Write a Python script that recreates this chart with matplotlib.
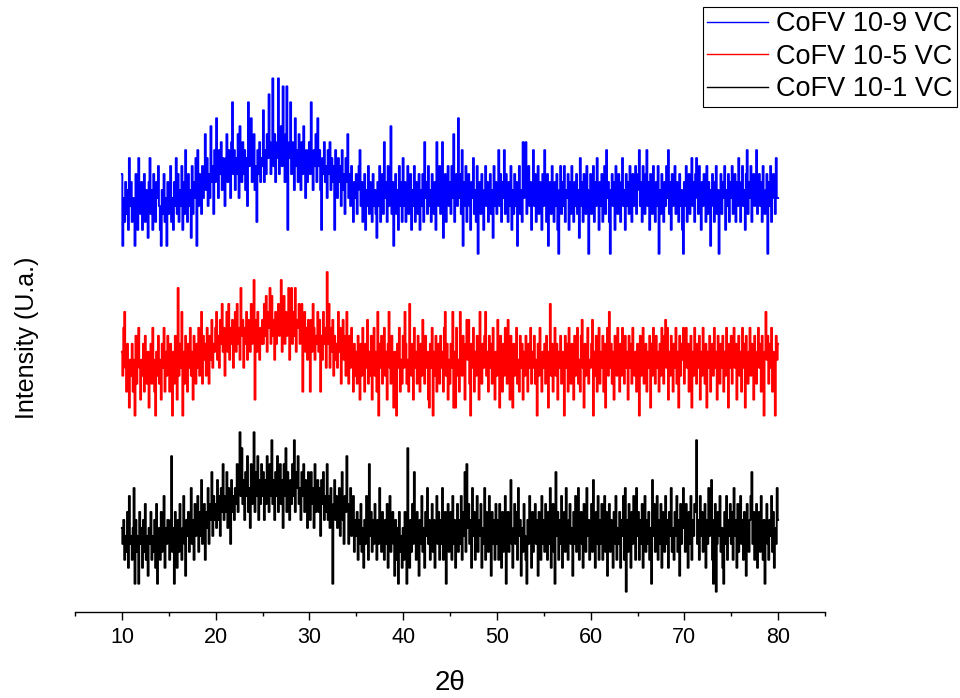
import matplotlib
matplotlib.use("Agg")
import matplotlib.pyplot as plt
import numpy as np
from matplotlib.ticker import MultipleLocator

plt.rcParams['font.family'] = ['Liberation Sans', 'DejaVu Sans']

# 2theta grid: 10.0 -> 80.0 deg, step 0.1
theta_start = 10.0
theta_step = 0.1

# intensity counts (detector levels above each trace's floor)
cofv_10_9 = [
    10, 1, 7, 4, 9, 5, 8, 3, 12, 6, 9, 4, 7, 5, 1, 10, 6, 3, 12, 8, 5, 9, 3, 7, 10, 4, 8, 6, 2, 9, 12, 5, 8, 3, 10, 6, 4, 9, 7, 11, 6, 3, 1, 8, 5, 10, 4, 7, 1, 9,
    5, 8, 11, 4, 7, 3, 9, 6, 12, 5, 10, 4, 8, 6, 11, 3, 9, 5, 13, 7, 4, 10, 6, 8, 2, 11, 5, 9, 7, 12, 1, 13, 6, 10, 8, 5, 11, 7, 9, 15, 8, 12, 6, 10, 7, 16, 9, 11, 5, 13,
    9, 17, 11, 7, 13, 10, 14, 8, 12, 10, 6, 12, 15, 9, 13, 11, 7, 14, 19, 10, 13, 8, 12, 10, 15, 7, 16, 11, 9, 14, 10, 13, 8, 12, 6, 19, 11, 14, 17, 9, 12, 15, 8, 11, 4, 13, 10, 14, 9, 12,
    11, 18, 9, 13, 10, 15, 12, 20, 14, 10, 13, 22, 11, 15, 9, 12, 14, 22, 10, 13, 16, 11, 21, 13, 9, 15, 21, 3, 12, 14, 19, 10, 14, 12, 8, 17, 11, 13, 9, 15, 12, 8, 14, 10, 16, 11, 7, 13, 9, 12,
    14, 10, 19, 12, 8, 13, 11, 15, 9, 17, 11, 13, 8, 3, 12, 10, 14, 9, 11, 7, 13, 10, 14, 8, 12, 9, 11, 3, 13, 10, 7, 12, 9, 11, 6, 13, 8, 10, 5, 12, 9, 15, 7, 10, 6, 11, 8, 4, 9, 7,
    10, 5, 8, 11, 13, 6, 9, 4, 7, 10, 3, 8, 6, 11, 5, 9, 7, 4, 10, 6, 8, 5, 2, 9, 6, 11, 4, 7, 10, 5, 14, 7, 9, 4, 11, 6, 8, 16, 5, 9, 1, 7, 10, 5, 8, 3, 11, 6, 9, 4,
    12, 6, 9, 4, 8, 11, 5, 7, 10, 3, 8, 6, 11, 4, 9, 7, 5, 10, 3, 8, 6, 10, 4, 14, 7, 9, 5, 11, 6, 8, 4, 10, 7, 5, 9, 3, 14, 8, 6, 11, 5, 9, 14, 2, 7, 10, 4, 8, 11, 6,
    9, 5, 11, 7, 15, 4, 8, 10, 6, 17, 7, 10, 5, 13, 1, 9, 6, 11, 4, 8, 10, 6, 3, 9, 7, 12, 5, 8, 4, 11, 0, 7, 9, 5, 10, 6, 3, 8, 11, 6, 9, 4, 7, 10, 5, 8, 2, 11, 6, 9,
    5, 8, 13, 6, 10, 4, 9, 7, 13, 5, 10, 7, 4, 9, 6, 11, 3, 8, 5, 10, 6, 9, 1, 7, 11, 5, 8, 4, 14, 7, 10, 14, 5, 8, 11, 6, 9, 3, 7, 13, 6, 10, 4, 8, 11, 5, 9, 7, 3, 10,
    6, 13, 8, 4, 10, 1, 7, 9, 5, 11, 7, 4, 9, 6, 10, 3, 0, 8, 11, 5, 9, 6, 11, 4, 8, 7, 10, 3, 9, 5, 11, 7, 4, 9, 6, 10, 5, 8, 2, 12, 6, 9, 4, 10, 7, 5, 11, 8, 0, 6,
    10, 5, 8, 11, 4, 9, 6, 12, 7, 3, 9, 6, 10, 4, 8, 11, 5, 13, 7, 9, 4, 0, 8, 10, 6, 9, 3, 11, 7, 5, 10, 7, 4, 9, 12, 6, 8, 3, 10, 6, 9, 5, 11, 7, 4, 10, 6, 8, 11, 5,
    8, 10, 13, 6, 9, 4, 11, 7, 5, 10, 13, 6, 9, 3, 10, 7, 5, 11, 8, 4, 9, 6, 11, 0, 8, 5, 10, 7, 4, 9, 6, 11, 7, 13, 5, 9, 3, 10, 6, 8, 11, 5, 9, 7, 4, 10, 6, 8, 3, 0,
    9, 6, 11, 4, 8, 10, 5, 7, 12, 6, 9, 4, 10, 12, 7, 5, 11, 8, 3, 9, 6, 10, 7, 4, 11, 5, 9, 8, 1, 6, 10, 7, 4, 9, 11, 5, 8, 0, 6, 10, 5, 9, 7, 11, 3, 8, 6, 10, 4, 9,
    7, 11, 5, 8, 10, 4, 9, 6, 12, 7, 4, 9, 11, 6, 8, 3, 10, 13, 5, 9, 7, 11, 4, 8, 10, 6, 9, 13, 5, 8, 10, 6, 9, 4, 11, 7, 5, 8, 10, 0, 9, 6, 11, 4, 8, 10, 7, 5, 12, 7,
    7,
]

cofv_10_5 = [
    8, 5, 11, 13, 6, 3, 9, 4, 1, 7, 5, 9, 3, 7, 0, 10, 4, 8, 11, 6, 2, 7, 5, 9, 3, 10, 6, 4, 8, 1, 6, 9, 4, 11, 7, 3, 0, 8, 5, 10, 4, 7, 2, 9, 6, 11, 3, 8, 5, 10,
    6, 3, 9, 5, 0, 8, 4, 10, 7, 2, 16, 5, 9, 6, 13, 0, 8, 4, 10, 7, 3, 9, 6, 11, 5, 8, 2, 10, 7, 4, 9, 6, 11, 5, 8, 13, 4, 10, 7, 9, 5, 11, 8, 4, 10, 7, 12, 6, 9, 8,
    11, 13, 7, 10, 6, 12, 9, 14, 8, 11, 5, 10, 13, 8, 14, 7, 11, 9, 12, 6, 10, 13, 8, 14, 9, 11, 7, 16, 10, 12, 6, 11, 9, 13, 7, 12, 10, 8, 14, 9, 11, 17, 2, 12, 8, 13, 10, 7, 11, 9,
    12, 9, 14, 10, 15, 8, 13, 11, 16, 9, 15, 10, 12, 7, 13, 9, 11, 14, 10, 12, 17, 8, 11, 15, 9, 13, 10, 12, 16, 7, 11, 16, 9, 13, 10, 16, 8, 12, 11, 14, 9, 12, 14, 3, 10, 13, 8, 11, 7, 12,
    10, 3, 12, 8, 14, 11, 7, 10, 9, 13, 8, 12, 3, 10, 7, 13, 9, 11, 6, 18, 9, 14, 6, 11, 8, 12, 5, 10, 7, 9, 6, 13, 8, 11, 4, 9, 12, 7, 10, 5, 13, 8, 4, 10, 6, 11, 7, 3, 9, 5,
    8, 4, 10, 6, 2, 9, 5, 11, 7, 3, 9, 6, 12, 4, 8, 5, 10, 2, 7, 11, 5, 8, 3, 13, 0, 9, 6, 10, 4, 7, 11, 5, 8, 2, 9, 13, 6, 4, 10, 7, 1, 8, 5, 0, 9, 6, 11, 3, 7, 4,
    10, 6, 13, 9, 4, 7, 3, 14, 8, 5, 9, 2, 11, 6, 8, 4, 10, 7, 3, 9, 5, 12, 7, 4, 10, 6, 8, 2, 1, 9, 6, 11, 0, 8, 5, 10, 3, 7, 9, 4, 10, 6, 8, 3, 11, 13, 5, 9, 2, 7,
    4, 9, 6, 13, 1, 8, 1, 11, 5, 7, 3, 13, 8, 5, 10, 6, 2, 9, 12, 7, 12, 4, 0, 9, 6, 11, 3, 8, 5, 10, 6, 2, 13, 7, 4, 9, 6, 10, 13, 5, 8, 3, 10, 6, 9, 4, 11, 7, 2, 8,
    5, 12, 7, 1, 10, 6, 3, 9, 5, 11, 7, 4, 12, 8, 2, 10, 6, 1, 9, 5, 8, 11, 4, 7, 3, 10, 6, 9, 2, 8, 5, 10, 7, 3, 9, 6, 11, 4, 8, 6, 10, 4, 7, 0, 9, 5, 11, 6, 3, 8,
    6, 9, 4, 10, 7, 1, 8, 14, 5, 9, 3, 7, 11, 5, 9, 2, 8, 6, 10, 4, 8, 5, 0, 10, 6, 9, 3, 11, 7, 4, 9, 6, 2, 10, 5, 8, 11, 4, 7, 3, 10, 12, 6, 1, 9, 5, 8, 11, 4, 7,
    6, 9, 12, 0, 8, 5, 10, 3, 7, 11, 4, 8, 6, 10, 3, 9, 1, 7, 11, 5, 13, 6, 9, 4, 8, 2, 10, 7, 5, 11, 6, 3, 9, 5, 11, 7, 4, 10, 6, 8, 2, 10, 6, 9, 4, 11, 7, 5, 8, 3,
    9, 6, 0, 10, 5, 8, 11, 4, 7, 9, 3, 8, 6, 10, 1, 9, 5, 11, 7, 4, 10, 6, 8, 3, 9, 5, 11, 7, 4, 10, 12, 6, 11, 2, 8, 5, 10, 7, 3, 9, 6, 11, 4, 8, 1, 10, 5, 9, 7, 11,
    4, 8, 11, 6, 9, 3, 7, 10, 1, 8, 5, 11, 7, 4, 9, 6, 10, 2, 8, 5, 11, 7, 4, 9, 1, 8, 6, 10, 3, 7, 9, 5, 11, 6, 8, 2, 10, 7, 4, 9, 6, 10, 3, 8, 5, 11, 7, 1, 9, 6,
    10, 4, 8, 11, 6, 9, 2, 7, 10, 5, 8, 3, 11, 6, 9, 1, 10, 7, 4, 8, 11, 5, 9, 6, 2, 10, 7, 4, 8, 11, 6, 9, 3, 10, 5, 0, 8, 13, 7, 10, 4, 9, 6, 11, 3, 8, 5, 0, 10, 7,
    9,
]

cofv_10_1 = [
    8, 6, 9, 4, 7, 5, 10, 3, 12, 6, 7, 4, 8, 13, 1, 9, 5, 7, 1, 10, 6, 8, 3, 9, 5, 11, 4, 7, 2, 8, 6, 10, 4, 7, 5, 9, 3, 11, 1, 6, 8, 4, 10, 5, 7, 12, 3, 8, 6, 9,
    7, 4, 9, 17, 5, 8, 1, 10, 6, 3, 9, 5, 11, 7, 4, 8, 12, 6, 2, 9, 7, 10, 5, 8, 13, 6, 9, 4, 11, 7, 8, 12, 5, 10, 7, 14, 6, 9, 11, 4, 10, 8, 13, 6, 11, 9, 15, 7, 12, 9,
    11, 8, 14, 9, 12, 7, 13, 10, 16, 9, 12, 10, 15, 8, 13, 11, 6, 14, 10, 12, 9, 13, 11, 16, 10, 14, 20, 12, 18, 11, 14, 9, 15, 12, 17, 10, 13, 8, 16, 11, 13, 20, 10, 15, 12, 17, 9, 14, 11, 16,
    12, 15, 9, 14, 11, 17, 13, 10, 16, 12, 19, 11, 14, 9, 15, 12, 17, 10, 13, 16, 11, 14, 8, 16, 12, 18, 10, 15, 13, 9, 14, 11, 16, 12, 19, 10, 15, 13, 17, 11, 13, 9, 15, 12, 16, 10, 14, 11, 8, 15,
    12, 9, 15, 11, 13, 8, 16, 10, 12, 14, 10, 13, 7, 14, 11, 15, 9, 12, 10, 16, 9, 12, 8, 13, 10, 1, 11, 14, 9, 12, 8, 11, 13, 7, 10, 15, 9, 6, 12, 10, 17, 11, 6, 10, 13, 7, 9, 12, 5, 9,
    7, 10, 4, 9, 6, 11, 5, 8, 3, 9, 6, 12, 8, 4, 16, 7, 10, 5, 9, 6, 11, 7, 4, 9, 6, 13, 8, 5, 10, 7, 4, 9, 6, 11, 3, 8, 12, 5, 7, 10, 6, 2, 9, 4, 8, 1, 10, 5, 7, 3,
    8, 4, 10, 6, 1, 18, 7, 3, 9, 5, 11, 6, 15, 8, 4, 10, 7, 2, 9, 6, 12, 5, 8, 3, 10, 7, 13, 6, 9, 4, 8, 11, 5, 9, 3, 7, 12, 6, 10, 4, 9, 6, 13, 4, 8, 10, 1, 7, 11, 5,
    7, 10, 4, 12, 6, 9, 3, 8, 11, 5, 9, 6, 12, 4, 10, 7, 15, 5, 16, 8, 11, 6, 9, 3, 13, 7, 10, 4, 8, 12, 5, 9, 7, 11, 3, 8, 6, 13, 4, 10, 7, 5, 12, 8, 2, 10, 6, 9, 4, 11,
    6, 9, 4, 11, 7, 3, 10, 5, 8, 12, 1, 7, 10, 5, 9, 14, 6, 3, 8, 11, 6, 10, 4, 13, 7, 9, 2, 8, 5, 11, 7, 4, 1, 9, 6, 12, 8, 3, 10, 5, 8, 11, 6, 9, 2, 10, 7, 4, 12, 6,
    9, 5, 11, 7, 4, 10, 6, 13, 3, 8, 11, 5, 1, 15, 7, 10, 4, 9, 6, 12, 3, 8, 10, 5, 13, 7, 4, 9, 11, 6, 8, 2, 10, 6, 12, 5, 9, 13, 4, 7, 10, 6, 3, 11, 8, 5, 13, 7, 9, 4,
    7, 11, 5, 14, 8, 3, 10, 6, 12, 4, 9, 6, 11, 4, 8, 12, 5, 10, 2, 7, 11, 5, 9, 7, 3, 10, 6, 12, 4, 8, 6, 10, 3, 9, 7, 12, 4, 13, 0, 9, 5, 11, 7, 3, 10, 6, 12, 8, 4, 13,
    7, 10, 4, 9, 6, 11, 3, 8, 12, 5, 9, 6, 10, 4, 8, 1, 14, 7, 11, 5, 8, 12, 4, 9, 6, 11, 3, 10, 7, 5, 12, 6, 9, 3, 10, 7, 13, 5, 8, 4, 10, 7, 12, 5, 9, 2, 11, 6, 8, 13,
    8, 5, 11, 7, 3, 10, 6, 12, 4, 9, 7, 11, 10, 19, 6, 9, 4, 12, 7, 10, 5, 8, 11, 3, 9, 6, 13, 7, 10, 14, 4, 1, 9, 11, 0, 6, 10, 7, 12, 5, 8, 3, 1, 10, 6, 12, 4, 9, 7, 11,
    6, 10, 4, 13, 7, 9, 3, 11, 5, 8, 12, 6, 9, 4, 10, 7, 2, 11, 8, 5, 9, 12, 15, 6, 10, 4, 8, 11, 3, 7, 10, 5, 12, 7, 4, 9, 1, 8, 11, 6, 4, 9, 7, 12, 5, 10, 3, 8, 6, 13,
    9,
]

labels = ['CoFV 10-9 VC', 'CoFV 10-5 VC', 'CoFV 10-1 VC']
colors = ['#0000ff', '#ff0000', '#000000']
offsets = [42.4, 22.1, 0.0]   # vertical stacking of the three patterns

fig = plt.figure(figsize=(9.6, 6.98), dpi=100)
ax = fig.add_axes([75 / 960, 86 / 698, 750 / 960, 592 / 698])

handles = []
for counts, off, col, lab in zip([cofv_10_9, cofv_10_5, cofv_10_1], offsets, colors, labels):
    counts = np.asarray(counts, dtype=float)
    tt = theta_start + theta_step * np.arange(len(counts))
    ln, = ax.plot(tt, counts + off, color=col, lw=1.4, drawstyle='steps-mid', label=lab)
    handles.append(ln)

ax.set_xlim(5, 85)
ax.set_ylim(-2.55, 71.73)

for side in ['left', 'right', 'top']:
    ax.spines[side].set_visible(False)
ax.spines['bottom'].set_linewidth(1.0)
ax.set_yticks([])

ax.xaxis.set_major_locator(MultipleLocator(10))
ax.xaxis.set_minor_locator(MultipleLocator(5))
ax.tick_params(axis='x', which='major', length=6, width=1.0, labelsize=15.5, pad=5)
ax.tick_params(axis='x', which='minor', length=3, width=1.0)

ax.set_xlabel('2θ', fontsize=20)
ax.xaxis.set_label_coords(0.5, -(683 - 612) / 592)
ax.xaxis.label.set_va('center')

ax.set_ylabel('Intensity (U.a.)', fontsize=18)
ax.yaxis.set_label_coords(-(75 - 27) / 750, (612 - 338) / 592)
ax.yaxis.label.set_va('center')

leg = fig.legend(handles=handles, loc='upper right',
                 bbox_to_anchor=(957 / 960, 1 - 7 / 698), bbox_transform=fig.transFigure,
                 fontsize=19.5, frameon=True, fancybox=False, framealpha=1,
                 edgecolor='black', borderpad=0.16, labelspacing=0.24,
                 handlelength=2.26, handletextpad=0.3, borderaxespad=0)
leg.get_frame().set_linewidth(0.8)
for hl in leg.get_lines():
    hl.set_linewidth(1.0)

fig.savefig('out.png', dpi=100)
